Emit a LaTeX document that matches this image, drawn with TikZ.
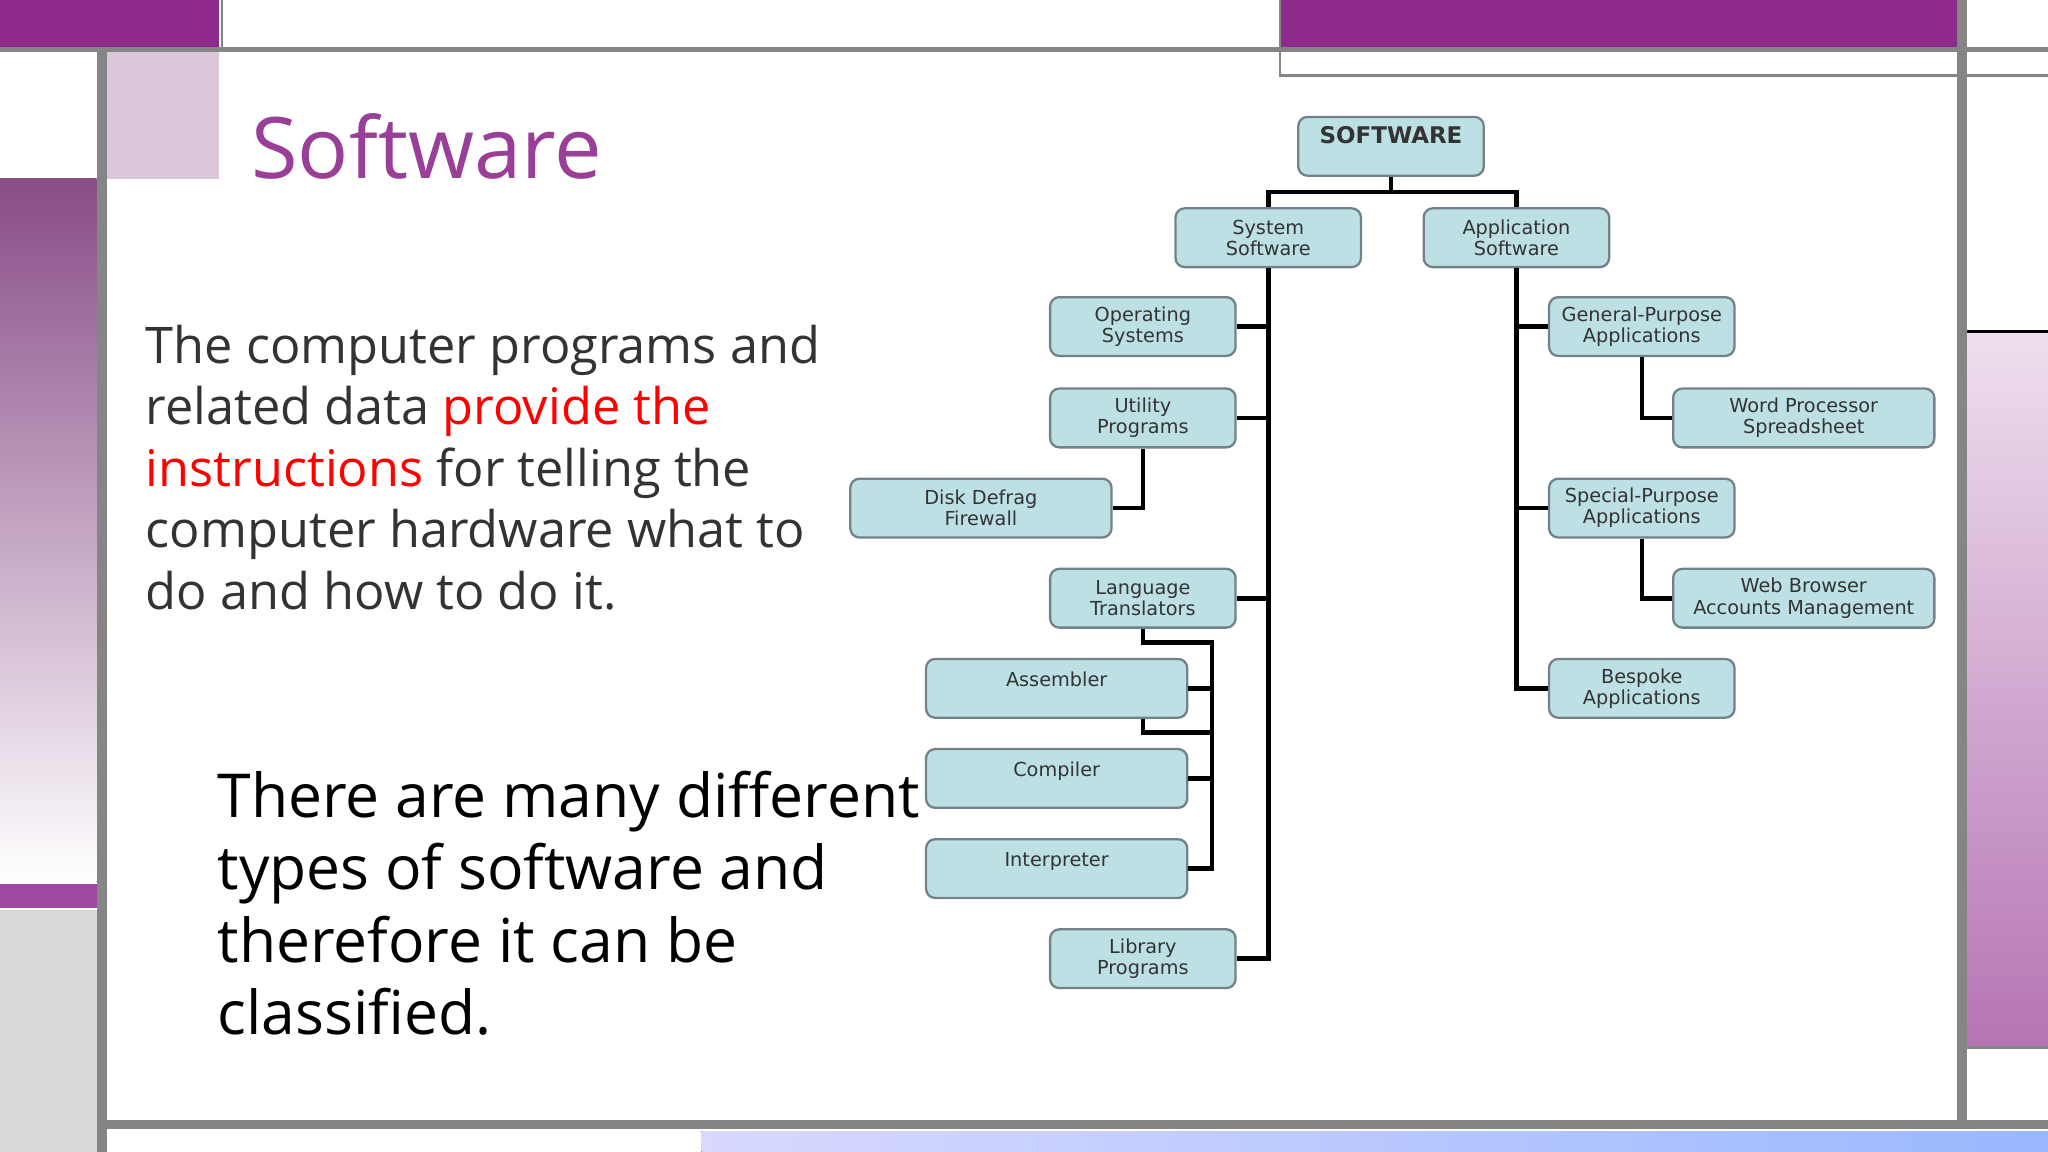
\documentclass[tikz,border=0pt]{standalone}
\usepackage{fontspec}
\setmainfont{Open Sans}
\newfontfamily\diag{DejaVu Sans}
\begin{document}
\begin{tikzpicture}[x=0.1mm,y=-0.1mm,
  box/.style={draw=black!55!cyan!40!gray,fill=boxc,rounded corners=2pt,line width=0.5pt,
    minimum height=4.5mm,inner sep=0pt,align=center,
    font=\diag\fontsize{4.2}{4.6}\selectfont,text=black!80},
  sbox/.style={box,minimum width=14.2mm},
  wbox/.style={box,minimum width=20mm},
  con/.style={line width=1pt,black}]
\definecolor{boxc}{HTML}{BCE0E4}
\definecolor{purp}{HTML}{8E2A8C}
\definecolor{gr}{HTML}{858585}
\useasboundingbox (0,0) rectangle (1568,882);
\fill[white] (0,0) rectangle (1568,882);
% frame
\fill[purp] (0,0) rectangle (168,37);
\fill[purp] (980,0) rectangle (1500,37);
\fill[top color=purp!60!gray,bottom color=white] (0,137) rectangle (74,675);
\fill[purp!60!violet!80!white] (0,677) rectangle (74,695);
\fill[black!15] (0,697) rectangle (74,882);
\fill[black!25!purp!25] (82,40) rectangle (168,137);
\fill[top color=purp!15,bottom color=purp!65] (1506,255) rectangle (1568,802);
\draw[black,line width=0.6pt] (1506,254) -- (1568,254);
\fill[left color=blue!15!white,right color=cyan!30!blue!40] (537,866) rectangle (1568,882);
\draw[gr,line width=1.2pt] (0,38) -- (1568,38);
\draw[gr,line width=2.2pt] (78,38) -- (78,882);
\draw[gr,line width=2.2pt] (1502,0) -- (1502,862);
\draw[gr,line width=2pt] (78,861) -- (1568,861);
\draw[gr,line width=0.6pt] (980,0) -- (980,58) -- (1568,58);
\draw[gr,line width=0.6pt] (170,0) -- (170,38);
\draw[gr,line width=0.6pt] (1506,802) -- (1568,802);
% texts
\node[anchor=west,text=purp!90!white,font=\fontsize{18.5}{20}\selectfont] (title) at (180,112) {Software};
\node[anchor=north west,align=left,text=black!80,inner sep=0pt,
  font=\fontsize{11}{13.4}\selectfont] (body) at (111,248)
 {The computer programs and\\related data \textcolor{red}{provide the}\\\textcolor{red}{instructions} for telling the\\computer hardware what to\\do and how to do it.};
\node[anchor=north west,align=left,text=black,inner sep=0pt,
  font=\fontsize{13.2}{15.7}\selectfont] (body2) at (166,590)
 {There are many different\\types of software and\\therefore it can be\\classified.};
% nodes
\node[sbox,font=\diag\bfseries\fontsize{5}{6}\selectfont,text depth=5pt] (sw) at (1065,112) {SOFTWARE};
\node[sbox] (sys) at (971,182) {System\\Software};
\node[sbox] (app) at (1161,182) {Application\\Software};
\node[sbox] (os) at (875,250) {Operating\\Systems};
\node[sbox] (ut) at (875,320) {Utility\\Programs};
\node[wbox] (dd) at (751,389) {Disk Defrag\\Firewall};
\node[sbox] (lt) at (875,458) {Language\\Translators};
\node[wbox,text depth=4pt] (as) at (809,527) {Assembler};
\node[wbox,text depth=4pt] (co) at (809,596) {Compiler};
\node[wbox,text depth=4pt] (in) at (809,665) {Interpreter};
\node[sbox] (lib) at (875,734) {Library\\Programs};
\node[sbox] (gp) at (1257,250) {General-Purpose\\Applications};
\node[wbox] (wp) at (1381,320) {Word Processor\\Spreadsheet};
\node[sbox] (sp) at (1257,389) {Special-Purpose\\Applications};
\node[wbox] (wb) at (1381,458) {Web Browser\\Accounts Management};
\node[sbox] (bs) at (1257,527) {Bespoke\\Applications};
% connectors
\coordinate (j1) at (1065,147);
\draw[con] (sw.south) -- (j1);
\draw[con] (sys.north) |- (j1) -| (app.north);
\coordinate (st) at (971,734);
\draw[con] (sys.south) -- (st) -- (lib.east);
\draw[con] (os.east) -- (os.east -| st);
\draw[con] (ut.east) -- (ut.east -| st);
\draw[con] (lt.east) -- (lt.east -| st);
\draw[con] (ut.south) |- (dd.east);
\coordinate (l1) at (875,492);
\coordinate (l2) at (928,492);
\coordinate (l3) at (875,561);
\draw[con] (lt.south) -- (l1) -- (l2) -- (l2 |- in.east) -- (in.east);
\draw[con] (as.east) -- (as.east -| l2);
\draw[con] (co.east) -- (co.east -| l2);
\draw[con] (l3 |- as.south) -- (l3) -- (l3 -| l2);
\coordinate (at) at (1161,527);
\draw[con] (app.south) -- (at) -- (bs.west);
\draw[con] (gp.west) -- (gp.west -| at);
\draw[con] (sp.west) -- (sp.west -| at);
\draw[con] (gp.south) |- (wp.west);
\draw[con] (sp.south) |- (wb.west);
\end{tikzpicture}
\end{document}
